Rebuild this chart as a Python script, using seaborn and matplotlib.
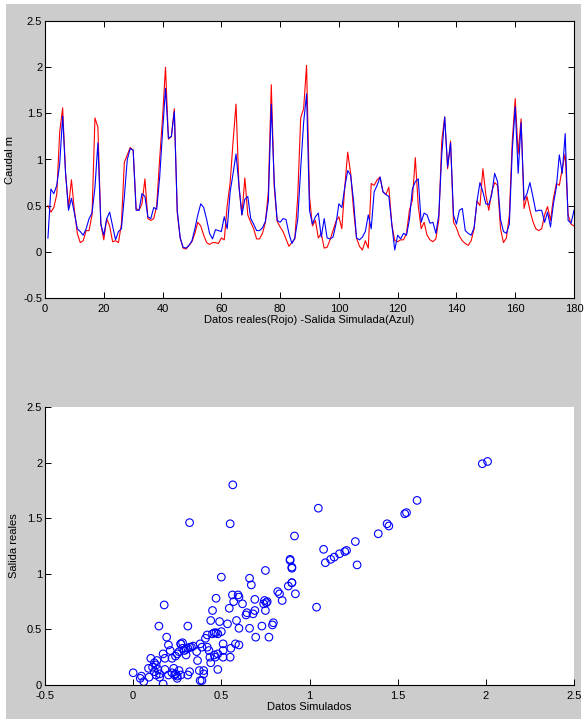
import numpy as np
import pandas as pd
import matplotlib
matplotlib.use("Agg")
import matplotlib.pyplot as plt
import seaborn as sns
from matplotlib.patches import Rectangle

# Datos reales (rojo) y salida simulada (azul), t = 1..180
real = [0.50, 0.43, 0.48, 0.62, 1.30, 1.56, 0.85, 0.48, 0.78, 0.45,
        0.20, 0.10, 0.12, 0.23, 0.23, 0.40, 1.45, 1.35, 0.30, 0.13,
        0.36, 0.28, 0.11, 0.12, 0.10, 0.30, 0.97, 1.05, 1.13, 1.10,
        0.47, 0.45, 0.52, 0.79, 0.36, 0.34, 0.36, 0.50, 1.00, 1.45,
        2.00, 1.22, 1.25, 1.55, 0.42, 0.15, 0.04, 0.03, 0.07, 0.11,
        0.20, 0.32, 0.28, 0.18, 0.10, 0.08, 0.10, 0.10, 0.09, 0.15,
        0.13, 0.50, 0.75, 1.20, 1.60, 0.70, 0.40, 0.80, 0.40, 0.32,
        0.25, 0.14, 0.14, 0.20, 0.32, 0.65, 1.81, 0.70, 0.33, 0.27,
        0.22, 0.14, 0.06, 0.10, 0.14, 0.60, 1.45, 1.55, 2.02, 0.60,
        0.28, 0.34, 0.15, 0.20, 0.04, 0.05, 0.13, 0.23, 0.33, 0.38,
        0.25, 0.70, 1.08, 0.85, 0.45, 0.15, 0.06, 0.02, 0.12, 0.04,
        0.74, 0.72, 0.78, 0.81, 0.65, 0.62, 0.70, 0.30, 0.12, 0.11,
        0.13, 0.13, 0.20, 0.45, 0.56, 1.02, 0.50, 0.25, 0.32, 0.18,
        0.13, 0.11, 0.14, 0.35, 1.20, 1.46, 0.90, 1.20, 0.32, 0.26,
        0.17, 0.12, 0.09, 0.07, 0.12, 0.25, 0.55, 0.50, 0.90, 0.62,
        0.45, 0.65, 0.75, 0.72, 0.25, 0.10, 0.15, 0.40, 1.20, 1.66,
        1.06, 1.44, 0.47, 0.60, 0.45, 0.33, 0.25, 0.23, 0.25, 0.40,
        0.49, 0.34, 0.58, 0.74, 0.72, 0.90, 1.06, 0.40, 0.30, 0.28]

simulada = [0.15, 0.68, 0.63, 0.72, 0.95, 1.47, 0.85, 0.45, 0.58, 0.42,
            0.25, 0.22, 0.18, 0.25, 0.36, 0.42, 0.70, 1.18, 0.30, 0.18,
            0.36, 0.43, 0.28, 0.13, 0.22, 0.25, 0.60, 1.00, 1.12, 1.10,
            0.45, 0.45, 0.63, 0.60, 0.38, 0.36, 0.48, 0.46, 0.80, 1.30,
            1.77, 1.23, 1.25, 1.52, 0.45, 0.15, 0.05, 0.04, 0.07, 0.12,
            0.25, 0.40, 0.52, 0.48, 0.35, 0.20, 0.14, 0.24, 0.23, 0.22,
            0.38, 0.25, 0.65, 0.85, 1.06, 0.72, 0.40, 0.57, 0.60, 0.36,
            0.30, 0.23, 0.23, 0.26, 0.33, 0.55, 1.60, 0.75, 0.34, 0.32,
            0.36, 0.35, 0.20, 0.09, 0.15, 0.35, 0.90, 1.40, 1.71, 0.45,
            0.30, 0.38, 0.42, 0.16, 0.36, 0.15, 0.14, 0.16, 0.30, 0.52,
            0.48, 0.70, 0.88, 0.83, 0.55, 0.15, 0.13, 0.16, 0.22, 0.40,
            0.25, 0.65, 0.72, 0.81, 0.65, 0.62, 0.60, 0.30, 0.02, 0.18,
            0.14, 0.20, 0.18, 0.35, 0.68, 0.76, 0.79, 0.32, 0.42, 0.40,
            0.31, 0.32, 0.20, 0.40, 1.05, 1.46, 0.92, 1.18, 0.40, 0.30,
            0.45, 0.47, 0.23, 0.20, 0.18, 0.26, 0.55, 0.75, 0.65, 0.52,
            0.51, 0.62, 0.85, 0.76, 0.35, 0.22, 0.20, 0.30, 1.10, 1.57,
            0.85, 1.40, 0.56, 0.63, 0.75, 0.60, 0.44, 0.45, 0.45, 0.32,
            0.43, 0.27, 0.52, 0.70, 1.05, 0.85, 1.28, 0.34, 0.31, 0.45]

t = np.arange(1, len(real) + 1)

# Dispersion: datos simulados (x) contra salida real (y)
disp_x = [1.98, 2.01, 1.61, 1.54, 1.55, 1.44, 1.45, 1.39, 1.26, 1.27,
          1.21, 1.20, 1.17, 1.14, 1.12, 1.09, 1.08, 1.05, 1.04, 0.915,
          0.90, 0.89, 0.90, 0.92, 0.00, 0.04, 0.047, 0.09, 0.087, 0.10,
          0.11, 0.12, 0.13, 0.14, 0.15, 0.12, 0.135, 0.146, 0.15, 0.17,
          0.176, 0.17, 0.18, 0.19, 0.20, 0.21, 0.22, 0.23, 0.235, 0.24,
          0.25, 0.26, 0.27, 0.24, 0.25, 0.26, 0.27, 0.28, 0.29, 0.30,
          0.31, 0.32, 0.33, 0.34, 0.27, 0.31, 0.32, 0.31, 0.32, 0.365,
          0.375, 0.38, 0.39, 0.38, 0.39, 0.40, 0.40, 0.41, 0.42, 0.43,
          0.435, 0.44, 0.44, 0.45, 0.46, 0.47, 0.48, 0.45, 0.46, 0.465,
          0.48, 0.47, 0.48, 0.49, 0.50, 0.50, 0.51, 0.51, 0.51, 0.535,
          0.545, 0.55, 0.55, 0.554, 0.565, 0.563, 0.57, 0.58, 0.586, 0.595,
          0.60, 0.60, 0.60, 0.62, 0.64, 0.645, 0.66, 0.66, 0.67, 0.68,
          0.69, 0.69, 0.695, 0.73, 0.74, 0.745, 0.755, 0.76, 0.75, 0.75,
          0.77, 0.79, 0.795, 0.82, 0.83, 0.845, 0.88, 0.89, 0.90, 0.90,
          0.18, 0.20, 0.22, 0.28, 0.30, 0.36, 0.42, 0.06, 0.13, 0.25]
disp_y = [1.99, 2.01, 1.66, 1.54, 1.55, 1.45, 1.43, 1.36, 1.29, 1.08,
          1.21, 1.20, 1.18, 1.15, 1.13, 1.10, 1.22, 1.59, 0.70, 1.34,
          1.06, 1.12, 0.92, 0.82, 0.11, 0.06, 0.08, 0.07, 0.15, 0.24,
          0.16, 0.12, 0.18, 0.14, 0.10, 0.20, 0.22, 0.53, 0.07, 0.01,
          0.72, 0.28, 0.24, 0.43, 0.36, 0.31, 0.24, 0.15, 0.09, 0.10,
          0.08, 0.13, 0.09, 0.26, 0.28, 0.30, 0.37, 0.33, 0.31, 0.32,
          0.33, 0.34, 0.34, 0.35, 0.37, 0.53, 1.46, 0.09, 0.12, 0.22,
          0.13, 0.37, 0.34, 0.04, 0.04, 0.13, 0.10, 0.42, 0.34, 0.31,
          0.25, 0.20, 0.58, 0.46, 0.47, 0.47, 0.46, 0.67, 0.27, 0.25,
          0.28, 0.78, 0.14, 0.57, 0.48, 0.97, 0.37, 0.31, 0.25, 0.55,
          0.69, 1.45, 0.25, 0.33, 1.80, 0.81, 0.75, 0.37, 0.58, 0.81,
          0.79, 0.51, 0.36, 0.73, 0.63, 0.65, 0.96, 0.51, 0.90, 0.64,
          0.67, 0.77, 0.43, 0.53, 0.73, 0.76, 0.74, 0.75, 0.67, 1.03,
          0.43, 0.54, 0.56, 0.84, 0.82, 0.76, 0.89, 1.13, 0.92, 1.05,
          0.14, 0.09, 0.11, 0.38, 0.27, 0.30, 0.45, 0.03, 0.09, 0.06]

serie = pd.DataFrame({"t": t, "real": real, "simulada": simulada})
disp = pd.DataFrame({"x": disp_x, "y": disp_y})

plt.rcParams['font.family'] = ['Liberation Sans Narrow', 'Liberation Sans', 'DejaVu Sans']
plt.rcParams['font.size'] = 8
plt.rcParams['xtick.direction'] = 'in'
plt.rcParams['ytick.direction'] = 'in'

fig = plt.figure(figsize=(5.85, 7.23), dpi=100, facecolor='white')
fondo = Rectangle((6 / 585, 4 / 723), 575 / 585, 715 / 723,
                  transform=fig.transFigure, facecolor='#cccccc',
                  edgecolor='none', zorder=-10)
fig.add_artist(fondo)

# Serie temporal
ax1 = fig.add_axes([45 / 585, 1 - 298 / 723, 529 / 585, 277 / 723])
sns.lineplot(data=serie, x="t", y="real", color="red", lw=0.8, ax=ax1, estimator=None)
sns.lineplot(data=serie, x="t", y="simulada", color="blue", lw=0.8, ax=ax1, estimator=None)
ax1.set_xlim(0, 180)
ax1.set_ylim(-0.5, 2.5)
ax1.set_xticks(range(0, 181, 20))
ax1.set_yticks([-0.5, 0, 0.5, 1, 1.5, 2, 2.5])
ax1.set_yticklabels(["-0.5", "0", "0.5", "1", "1.5", "2", "2.5"])
ax1.tick_params(top=True, right=True, length=4, width=0.7, pad=2)
ax1.tick_params(axis='x', pad=4)
ax1.set_xlabel("Datos reales(Rojo) -Salida Simulada(Azul)", labelpad=1)
ax1.set_ylabel("Caudal m", family=['Liberation Sans', 'DejaVu Sans'], labelpad=6)
for s in ax1.spines.values():
    s.set_linewidth(0.8)

# Dispersion
ax2 = fig.add_axes([45 / 585, 1 - 685 / 723, 529 / 585, 278 / 723])
sns.scatterplot(data=disp, x="x", y="y", marker="o", s=30, facecolor="none",
                edgecolor="blue", linewidth=0.8, ax=ax2)
ax2.set_xlim(-0.5, 2.5)
ax2.set_ylim(0, 2.5)
ax2.set_xticks([-0.5, 0, 0.5, 1, 1.5, 2, 2.5])
ax2.set_xticklabels(["-0.5", "0", "0.5", "1", "1.5", "2", "2.5"])
ax2.set_yticks([0, 0.5, 1, 1.5, 2, 2.5])
ax2.set_yticklabels(["0", "0.5", "1", "1.5", "2", "2.5"])
ax2.tick_params(length=4, width=0.7, pad=2)
ax2.tick_params(axis='x', pad=4)
ax2.spines['top'].set_visible(False)
ax2.spines['right'].set_visible(False)
ax2.spines['left'].set_linewidth(0.8)
ax2.spines['bottom'].set_linewidth(0.8)
ax2.set_xlabel("Datos Simulados", labelpad=1)
ax2.set_ylabel("Salida reales", family=['Liberation Sans', 'DejaVu Sans'], labelpad=6)

fig.savefig("out.png", dpi=100, facecolor=fig.get_facecolor())
